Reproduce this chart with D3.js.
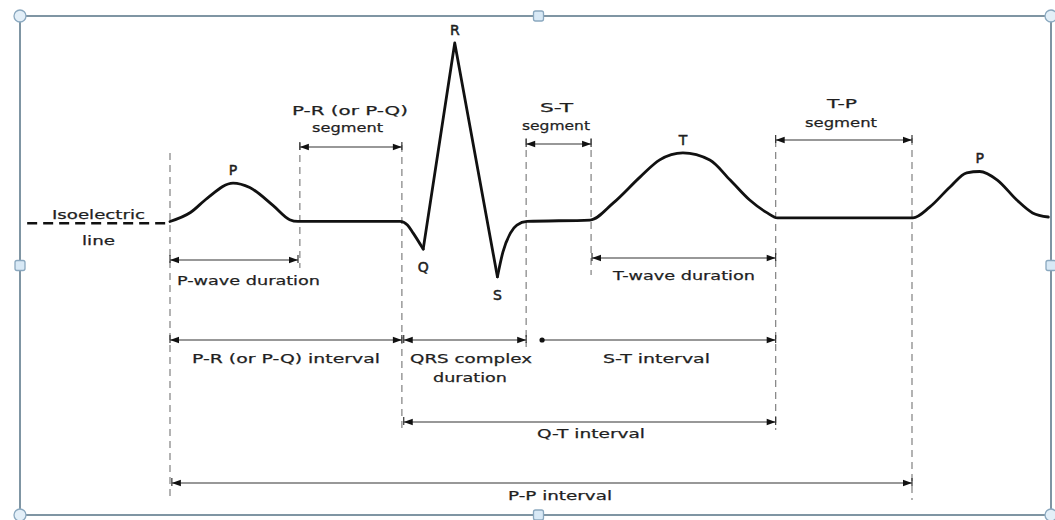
<!DOCTYPE html>
<html><head><meta charset="utf-8">
<script src="https://cdn.jsdelivr.net/npm/d3@7"></script>
<style>html,body{margin:0;padding:0;background:#fff;overflow:hidden}</style>
</head><body><svg id="c" width="1055" height="520"></svg>
<script>
// ---- ECG trace data: time (ms) and amplitude (mV) ----
const isoTime = [-154, -2];
const isoAmp = [-0.01, -0.01];
const pTime = [0, 22, 40, 68, 86, 111, 129, 138, 248, 256, 262, 273];
const pAmp  = [0, 0.05, 0.13, 0.215, 0.19, 0.09, 0.01, 0, 0, -0.02, -0.064, -0.155];
const qrsTime = [273, 307, 353];
const qrsAmp  = [-0.155, 1.0, -0.31];
const restTime = [353, 359, 367, 374, 385, 453, 478, 507, 528, 553, 582, 604, 625, 644, 655, 801, 819, 841, 859, 873, 892, 913, 930, 947];
const restAmp  = [-0.31, -0.17, -0.065, -0.02, 0, 0.008, 0.104, 0.25, 0.345, 0.384, 0.344, 0.232, 0.12, 0.048, 0.02, 0.02, 0.08, 0.193, 0.272, 0.28, 0.232, 0.12, 0.048, 0.025];

// wave labels
const waveNames = ["P", "R", "Q", "S", "T", "P"];
const waveTime  = [68, 307, 273, 353, 553, 873];
const waveAmp   = [0.215, 1.0, -0.155, -0.31, 0.384, 0.28];
const waveSide  = ["above", "above", "below", "below", "above", "above"];

// boundary markers (ms)
const markerTime = [0, 140, 250, 384, 454, 653, 800];

// measured segments / intervals (ms)
const spanNames = ["P-R (or P-Q) segment", "S-T segment", "T-P segment", "P-wave duration", "T-wave duration",
                   "P-R (or P-Q) interval", "QRS complex duration", "S-T interval", "Q-T interval", "P-P interval"];
const spanStart = [140, 384, 653, 0, 455, 0, 252, 399, 252, 2];
const spanEnd   = [250, 454, 800, 138, 653, 250, 384, 653, 653, 800];

// ---- layout ----
const W = 1055, H = 520;
const svg = d3.select("#c");
const x = d3.scaleLinear().domain([0, 800]).range([170, 912]);
const y = d3.scaleLinear().domain([-0.3, 1]).range([275, 43]);
const font = "'DejaVu Sans', Verdana, sans-serif";
const ink = "#1f1f1f";

svg.append("rect").attr("width", W).attr("height", H).attr("fill", "#fff");

// marker dashed lines
const markerTop = [153, 143, 145, 138, 138, 140, 138];
const markerBot = [500, 268, 432, 347, 275, 430, 500];
svg.append("g").selectAll("line").data(markerTime).join("line")
  .attr("x1", d => x(d)).attr("x2", d => x(d))
  .attr("y1", (d, i) => markerTop[i]).attr("y2", (d, i) => markerBot[i])
  .attr("stroke", "#8a8a8a").attr("stroke-width", 1.3).attr("stroke-dasharray", "7,5");

// ECG trace
const line = d3.line().x(d => x(d[0])).y(d => y(d[1]));
const zip = (a, b) => a.map((v, i) => [v, b[i]]);
const trace = svg.append("g").attr("fill", "none").attr("stroke", "#111")
  .attr("stroke-linejoin", "round").attr("stroke-linecap", "round");
trace.append("path").attr("d", line.curve(d3.curveLinear)(zip(isoTime, isoAmp)))
  .attr("stroke-width", 2.6).attr("stroke-dasharray", "10,6").attr("stroke-linecap", "butt");
trace.append("path").attr("d", line.curve(d3.curveMonotoneX)(zip(pTime, pAmp))).attr("stroke-width", 2.8);
trace.append("path").attr("d", line.curve(d3.curveLinear)(zip(qrsTime, qrsAmp))).attr("stroke-width", 2.8);
trace.append("path").attr("d", line.curve(d3.curveMonotoneX)(zip(restTime, restAmp))).attr("stroke-width", 2.8);

// wave letters
svg.append("g").selectAll("text").data(waveNames).join("text")
  .attr("x", (d, i) => x(waveTime[i]))
  .attr("y", (d, i) => y(waveAmp[i]) + (waveSide[i] === "above" ? -8 : 23))
  .attr("text-anchor", "middle").attr("font-family", font).attr("font-size", 14)
  .attr("fill", ink).attr("stroke", ink).attr("stroke-width", 0.5).text(d => d);

// brackets
const spanRow = [147, 144, 140, 260, 258, 340, 340, 340, 422, 483];
const spanLeftDot = [false, false, false, false, false, false, false, true, false, false];
const g = svg.append("g");
function head(px, py, dir) {
  const L = 9, hw = 3.2;
  return `M${px},${py}L${px - dir * L},${py - hw}L${px - dir * L},${py + hw}Z`;
}
spanNames.forEach((n, i) => {
  const x1 = x(spanStart[i]), x2 = x(spanEnd[i]), yy = spanRow[i];
  g.append("line").attr("x1", x1).attr("x2", x2).attr("y1", yy).attr("y2", yy)
    .attr("stroke", "#333").attr("stroke-width", 1.1);
  if (spanLeftDot[i]) {
    g.append("circle").attr("cx", x1 + 2).attr("cy", yy).attr("r", 2.6).attr("fill", "#111");
  } else {
    g.append("path").attr("d", head(x1, yy, -1)).attr("fill", "#111");
    g.append("line").attr("x1", x1).attr("x2", x1).attr("y1", yy - 5).attr("y2", yy + 3)
      .attr("stroke", "#333").attr("stroke-width", 1.2);
  }
  g.append("path").attr("d", head(x2, yy, 1)).attr("fill", "#111");
  g.append("line").attr("x1", x2).attr("x2", x2).attr("y1", yy - 5).attr("y2", yy + 3)
    .attr("stroke", "#333").attr("stroke-width", 1.2);
});

// annotation text lines
const labelText = ["Isoelectric", "line", "P-R (or P-Q)", "segment", "S-T", "segment", "T-P", "segment",
  "P-wave duration", "T-wave duration", "P-R (or P-Q) interval", "QRS complex", "duration",
  "S-T interval", "Q-T interval", "P-P interval"];
const labelX = [52, 82, 292, 312, 540, 522, 827, 805, 177, 613, 192, 410, 433, 603, 537, 508];
const labelY = [219, 245, 115, 132, 112, 130, 108, 127, 285, 280, 363, 363, 382, 363, 438, 500];
const labelW = [93, 33, 116, 71, 33, 68, 30, 72, 143, 142, 188, 122, 74, 107, 108, 104];
svg.append("g").selectAll("text").data(labelText).join("text")
  .attr("x", (d, i) => labelX[i]).attr("y", (d, i) => labelY[i])
  .attr("textLength", (d, i) => labelW[i]).attr("lengthAdjust", "spacingAndGlyphs")
  .attr("font-family", font).attr("font-size", 13).attr("fill", ink)
  .attr("stroke", ink).attr("stroke-width", 0.25).text(d => d);

// frame with handles
const fx0 = 20, fy0 = 16, fx1 = 1051, fy1 = 515;
svg.append("rect").attr("x", fx0).attr("y", fy0).attr("width", fx1 - fx0).attr("height", fy1 - fy0)
  .attr("fill", "none").attr("stroke", "#7f95a3").attr("stroke-width", 2);
const corners = [[fx0, fy0], [fx1, fy0], [fx0, fy1], [fx1, fy1]];
svg.append("g").selectAll("circle").data(corners).join("circle")
  .attr("cx", d => d[0]).attr("cy", d => d[1]).attr("r", 6)
  .attr("fill", "#e3eff8").attr("stroke", "#8aa8bf").attr("stroke-width", 1.3);
const mids = [[(fx0 + fx1) / 2 + 3, fy0], [fx0, (fy0 + fy1) / 2], [fx1, (fy0 + fy1) / 2], [(fx0 + fx1) / 2 + 3, fy1]];
svg.append("g").selectAll("rect").data(mids).join("rect")
  .attr("x", d => d[0] - 5).attr("y", d => d[1] - 5).attr("width", 10).attr("height", 10).attr("rx", 2)
  .attr("fill", "#d8e9f6").attr("stroke", "#8aa8bf").attr("stroke-width", 1.3);
</script></body></html>
